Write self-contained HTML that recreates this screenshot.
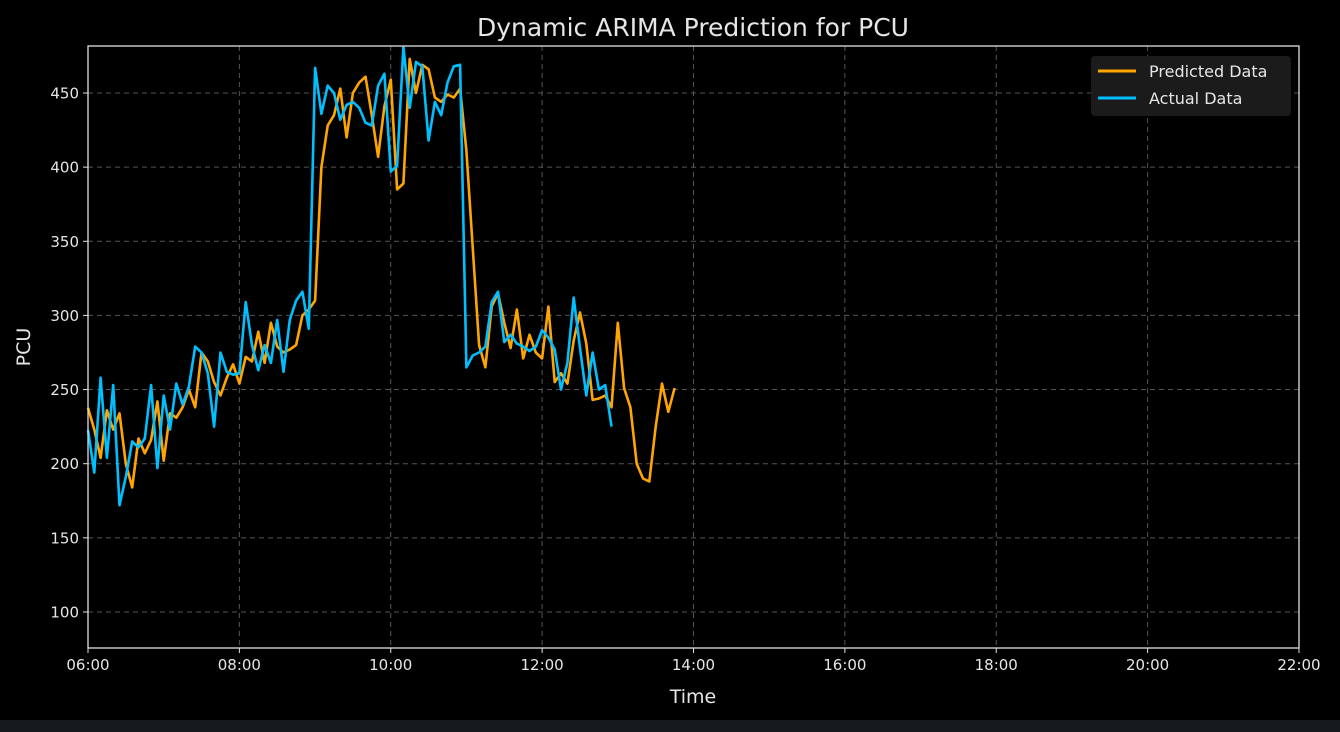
<!DOCTYPE html>
<html><head><meta charset="utf-8">
<style>
html,body{margin:0;padding:0;background:#000;}
svg{display:block;font-family:"DejaVu Sans","Liberation Sans",sans-serif;}
</style></head>
<body>
<svg id="chart" width="1340" height="732" viewBox="0 0 1340 732">
<rect x="0" y="0" width="1340" height="732" fill="#000"/>
<rect x="0" y="720" width="1340" height="12" fill="#16191e"/>
<text x="693" y="36" fill="#e6e6e6" font-size="25" text-anchor="middle">Dynamic ARIMA Prediction for PCU</text>
<g id="grid"></g>
<g id="series"></g>
<rect x="88" y="46" width="1211" height="602" fill="none" stroke="#e0e0e0" stroke-width="1.3"/>
<g id="ticks"></g>
<text x="693" y="703" fill="#e6e6e6" font-size="19" text-anchor="middle">Time</text>
<text x="30" y="347" fill="#e6e6e6" font-size="19" text-anchor="middle" transform="rotate(-90 30 347)">PCU</text>
<g>
<rect x="1091" y="56" width="200" height="60" rx="4" fill="#1b1b1b"/>
<line x1="1098" y1="71" x2="1136" y2="71" stroke="#FFA500" stroke-width="3"/>
<text x="1149" y="77" fill="#e6e6e6" font-size="16">Predicted Data</text>
<line x1="1098" y1="98" x2="1136" y2="98" stroke="#00BFFF" stroke-width="3"/>
<text x="1149" y="104" fill="#e6e6e6" font-size="16">Actual Data</text>
</g>
</svg>
<script>
const yTicks=[100,150,200,250,300,350,400,450];
const xTickLabels=["06:00","08:00","10:00","12:00","14:00","16:00","18:00","20:00","22:00"];
const xTickHours=[6,8,10,12,14,16,18,20,22];
const stepMinutes=5;
const startHour=6;
const predicted=[237.6,223,204,236,223,234,200,184,217,207,216,242,202,234,231,238,250,238,275,269,255,246,258,267,254,272,269,289,268,295,279,275,277,280,300,304,310,
400,428,435,453,420,450,457,461,435,407,441,459,385,389,473,450,469,466,447,444,449,447,453,411,346,
280,265,306,315,295,278,304,271,287,275,271,306,255,261,254,283,302,281,243,244,246,238,295,251,238,200,190,188,225,254,235,251];
const actual=[222.7,194,258,204,253,172,191,215,211,217,253,197,246,223,254,240,252,279,275,261,225,275,262,260,261,309,280,263,280,268,297,262,297,310,316,291,
467,436,455,450,432,442,444,440,430,428,455,463,397,401,481,440,471,468,418,444,435,457,468,469,
265,273,275,279,309,316,282,287,281,279,276,279,290,285,277,250,268,312,278,246,275,250,253,225];
const X0=88,X1=1299,Y0=648,Y1=46,HMIN=6,HMAX=22,VMIN=75.7,VMAX=481.7;
const xs=h=>X0+(h-HMIN)/(HMAX-HMIN)*(X1-X0);
const ys=v=>Y0-(v-VMIN)/(VMAX-VMIN)*(Y0-Y1);
const NS="http://www.w3.org/2000/svg";
const grid=document.getElementById('grid'),ticks=document.getElementById('ticks'),series=document.getElementById('series');
function mk(t,a){const e=document.createElementNS(NS,t);for(const k in a)e.setAttribute(k,a[k]);return e;}
yTicks.forEach(v=>{const y=ys(v);
const g=mk('line',{x1:X0,x2:X1,y1:y,y2:y,stroke:'#555','stroke-width':1,'stroke-dasharray':'5,4'});

grid.appendChild(g);
const tk=mk('line',{x1:X0-5,x2:X0,y1:y,y2:y,stroke:'#e0e0e0','stroke-width':1});

ticks.appendChild(tk);
const t=mk('text',{x:X0-9,y:y+5.5,fill:'#e6e6e6','font-size':15,'text-anchor':'end'});t.textContent=v;

ticks.appendChild(t);});
xTickHours.forEach((h,i)=>{const x=xs(h);
if(i>0&&i<xTickHours.length-1){const g=mk('line',{x1:x,x2:x,y1:Y1,y2:Y0,stroke:'#555','stroke-width':1,'stroke-dasharray':'5,4'});

grid.appendChild(g);}
const tk=mk('line',{x1:x,x2:x,y1:Y0,y2:Y0+5,stroke:'#e0e0e0','stroke-width':1});

ticks.appendChild(tk);
const t=mk('text',{x:x,y:Y0+22,fill:'#e6e6e6','font-size':15,'text-anchor':'middle'});t.textContent=xTickLabels[i];

ticks.appendChild(t);});
function path(arr,color,name){const d=arr.map((v,i)=>(i?'L':'M')+xs(startHour+i*stepMinutes/60).toFixed(1)+' '+ys(v).toFixed(1)).join(' ');
const p=mk('path',{d:d,fill:'none',stroke:color,'stroke-width':2.6,'stroke-linejoin':'round'});

series.appendChild(p);}
path(predicted,'#FFA500','predicted-line');
path(actual,'#00BFFF','actual-line');
</script>
</body></html>
